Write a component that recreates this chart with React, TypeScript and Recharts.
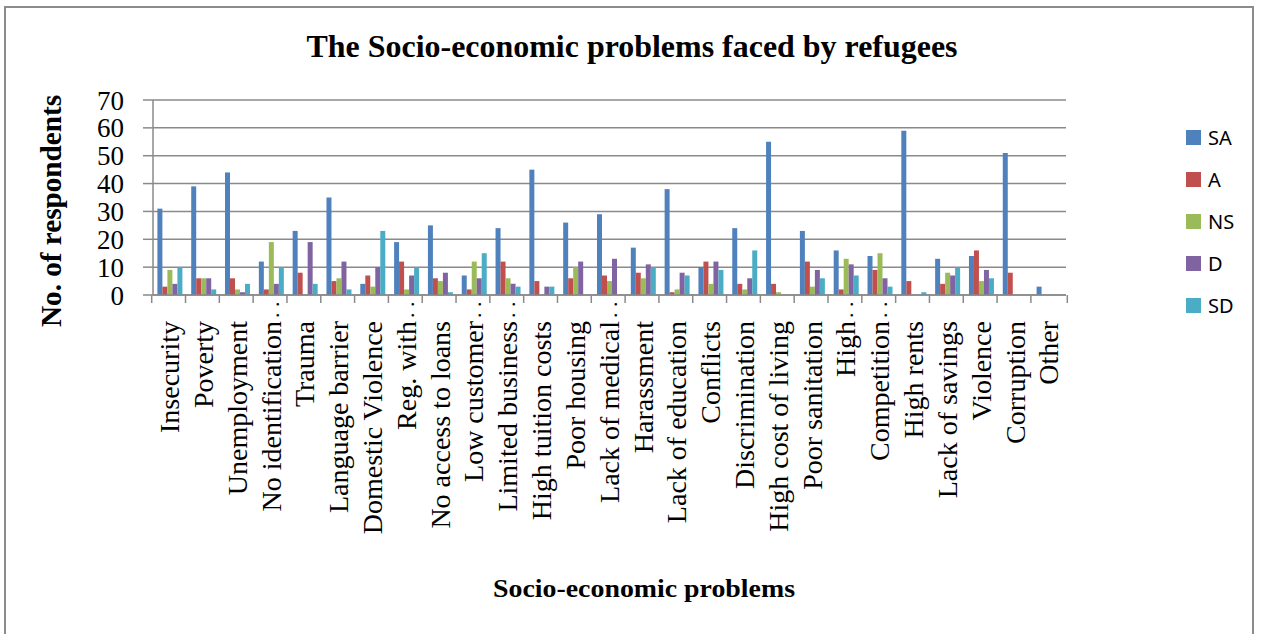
import React from "react";
import { BarChart, Bar, XAxis, YAxis, CartesianGrid, Legend, Label } from "recharts";

const categories = [
  "Insecurity",
  "Poverty",
  "Unemployment",
  "No identification..",
  "Trauma",
  "Language barrier",
  "Domestic Violence",
  "Reg. with..",
  "No access to loans",
  "Low customer..",
  "Limited business..",
  "High tuition costs",
  "Poor housing",
  "Lack of medical..",
  "Harassment",
  "Lack of education",
  "Conflicts",
  "Discrimination",
  "High cost of living",
  "Poor sanitation",
  "High..",
  "Competition..",
  "High rents",
  "Lack of savings",
  "Violence",
  "Corruption",
  "Other",
];

const saValues = [31, 39, 44, 12, 23, 35, 4, 19, 25, 7, 24, 45, 26, 29, 17, 38, 10, 24, 55, 23, 16, 14, 59, 13, 14, 51, 3];
const aValues = [3, 6, 6, 2, 8, 5, 7, 12, 6, 2, 12, 5, 6, 7, 8, 1, 12, 4, 4, 12, 2, 9, 5, 4, 16, 8, 0];
const nsValues = [9, 6, 2, 19, 0, 6, 3, 2, 5, 12, 6, 0, 10, 5, 6, 2, 4, 2, 1, 3, 13, 15, 0, 8, 5, 0, 0];
const dValues = [4, 6, 1, 4, 19, 12, 10, 7, 8, 6, 4, 3, 12, 13, 11, 8, 12, 6, 0, 9, 11, 6, 0, 7, 9, 0, 0];
const sdValues = [10, 2, 4, 10, 4, 2, 23, 10, 1, 15, 3, 3, 0, 0, 10, 7, 9, 16, 0, 6, 7, 3, 1, 10, 6, 0, 0];

const yTicks = [0, 10, 20, 30, 40, 50, 60, 70];

const series = [
  { key: "SA", values: saValues, color: "#4F81BD" },
  { key: "A", values: aValues, color: "#C0504D" },
  { key: "NS", values: nsValues, color: "#9BBB59" },
  { key: "D", values: dValues, color: "#8064A2" },
  { key: "SD", values: sdValues, color: "#4BACC6" },
];

const data = categories.map((name, i) => {
  const row: Record<string, string | number> = { name };
  series.forEach((s) => (row[s.key] = s.values[i]));
  return row;
});

const WIDTH = 1264;
const HEIGHT = 634;
const MARGIN = { top: 100, right: 128, bottom: 79, left: 93 };
const X_AXIS_HEIGHT = 260;
const Y_AXIS_WIDTH = 60;
const PLOT_LEFT = MARGIN.left + Y_AXIS_WIDTH;
const PLOT_RIGHT = WIDTH - MARGIN.right;
const BAND = (PLOT_RIGHT - PLOT_LEFT) / categories.length;

const SERIF = '"Liberation Serif", "Times New Roman", serif';
const GRID = "#8a8a8a";

// category label rotated bottom-to-top; cut-off names get their trailing dots drawn past the word
function CategoryTick(props: any) {
  const { x, y, payload, index } = props;
  const label: string = payload.value;
  const cut = label.endsWith("..");
  const word = cut ? label.slice(0, -2) : label;
  const wordEnd = y + 26;
  const left = x - BAND / 2;
  return (
    <g>
      <line x1={left} x2={left} y1={y} y2={y + 8} stroke={GRID} strokeWidth={1.5} />
      {index === categories.length - 1 && (
        <line x1={x + BAND / 2} x2={x + BAND / 2} y1={y} y2={y + 8} stroke={GRID} strokeWidth={1.5} />
      )}
      <text
        x={x}
        y={wordEnd}
        transform={`rotate(-90 ${x} ${wordEnd})`}
        textAnchor="end"
        dy="0.33em"
        fontFamily={SERIF}
        fontSize={28}
        fill="#000"
      >
        {word}
      </text>
      {cut && (
        <text
          x={x}
          y={wordEnd - 3}
          transform={`rotate(-90 ${x} ${wordEnd - 3})`}
          textAnchor="start"
          dy="0.33em"
          fontFamily={SERIF}
          fontSize={22}
          fill="#000"
        >
          . .
        </text>
      )}
    </g>
  );
}

function LegendBox() {
  return (
    <div style={{ display: "flex", flexDirection: "column", gap: 0 }}>
      {series.map((s) => (
        <div key={s.key} style={{ display: "flex", alignItems: "center", height: 42 }}>
          <span style={{ width: 15, height: 15, background: s.color, display: "inline-block", marginRight: 7 }} />
          <span style={{ fontFamily: '"Noto Sans", sans-serif', fontSize: 20, color: "#000" }}>{s.key}</span>
        </div>
      ))}
    </div>
  );
}

export default function App() {
  return (
    <div style={{ position: "absolute", left: 0, top: 0, width: WIDTH, height: HEIGHT, background: "#fff", overflow: "hidden" }}>
      <div
        style={{
          position: "absolute",
          left: 4,
          top: 6,
          width: 1250,
          height: 700,
          border: "2px solid #8c8c8c",
          boxSizing: "border-box",
        }}
      />
      <svg width={WIDTH} height={70} style={{ position: "absolute", left: 0, top: 0 }}>
        <text
          x={632}
          y={57}
          textAnchor="middle"
          fontFamily={SERIF}
          fontWeight="bold"
          fontSize={32}
          textLength={651}
          lengthAdjust="spacingAndGlyphs"
          fill="#000"
        >
          The Socio-economic problems faced by refugees
        </text>
      </svg>
      <BarChart
        width={WIDTH}
        height={HEIGHT}
        data={data}
        margin={MARGIN}
        barCategoryGap="13%"
        barGap={0}
        style={{ position: "absolute", left: 0, top: 0 }}
      >
        <CartesianGrid vertical={false} stroke={GRID} strokeWidth={1.5} />
        <XAxis
          dataKey="name"
          interval={0}
          height={X_AXIS_HEIGHT}
          tickSize={0}
          tickMargin={0}
          tickLine={false}
          axisLine={{ stroke: GRID, strokeWidth: 1.5 }}
          tick={<CategoryTick />}
        >
          <Label
            content={() => (
              <text
                x={644}
                y={597}
                textAnchor="middle"
                fontFamily={SERIF}
                fontWeight="bold"
                fontSize={26}
                textLength={302}
                lengthAdjust="spacingAndGlyphs"
                fill="#000"
              >
                Socio-economic problems
              </text>
            )}
          />
        </XAxis>
        <YAxis
          width={Y_AXIS_WIDTH}
          domain={[0, 70]}
          ticks={yTicks}
          interval={0}
          tickSize={10}
          tickMargin={19}
          tickLine={{ stroke: GRID, strokeWidth: 1.5 }}
          axisLine={{ stroke: GRID, strokeWidth: 1.5 }}
          tick={{ fontFamily: SERIF, fontSize: 27, fill: "#000" }}
        >
          <Label
            content={() => (
              <text
                x={61}
                y={211}
                transform="rotate(-90 61 211)"
                textAnchor="middle"
                fontFamily={SERIF}
                fontWeight="bold"
                fontSize={30}
                textLength={232}
                lengthAdjust="spacingAndGlyphs"
                fill="#000"
              >
                No. of respondents
              </text>
            )}
          />
        </YAxis>
        <Legend
          layout="vertical"
          verticalAlign="top"
          align="right"
          content={<LegendBox />}
          wrapperStyle={{ top: 116, left: 1186, width: 70 }}
        />
        {series.map((s) => (
          <Bar key={s.key} dataKey={s.key} fill={s.color} isAnimationActive={false} />
        ))}
      </BarChart>
    </div>
  );
}
